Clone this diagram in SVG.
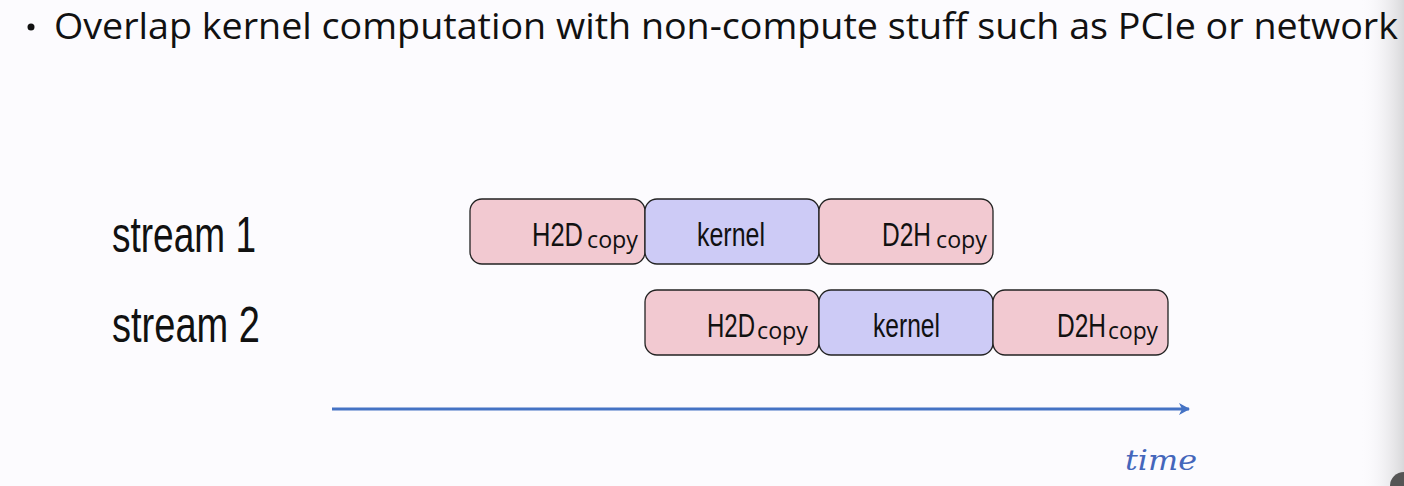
<svg xmlns="http://www.w3.org/2000/svg" width="1404" height="486" viewBox="0 0 1404 486">
<style>
.lbl{font-family:"Liberation Sans",Arial,sans-serif;fill:#111}
.sub{font-family:"Open Sans","Liberation Sans",sans-serif;fill:#111}
.copy{fill:#f2c9d1;stroke:#222;stroke-width:1.3}
.kern{fill:#cdcbf6;stroke:#222;stroke-width:1.3}
</style>
<defs>
<linearGradient id="edge" x1="0" x2="1" y1="0" y2="0">
<stop offset="0" stop-color="#fcfbfe" stop-opacity="0"/>
<stop offset="1" stop-color="#d8d8da"/>
</linearGradient>
<marker id="ah" markerWidth="14" markerHeight="14" refX="11" refY="7" orient="auto" markerUnits="userSpaceOnUse">
<path d="M1,1 L12,7 L1,13 L4,7 Z" fill="#4472c4"/>
</marker>
</defs>
<rect width="1404" height="486" fill="#fcfbfe"/>
<rect x="1360" y="0" width="44" height="486" fill="url(#edge)"/>
<circle cx="1404" cy="486" r="14" fill="#555"/>
<g id="title">
<circle cx="31" cy="27" r="3.5" fill="#111"/>
<text x="54" y="39" font-family="'Open Sans','Liberation Sans',sans-serif" font-size="36" fill="#111" textLength="1344" lengthAdjust="spacingAndGlyphs">Overlap kernel computation with non-compute stuff such as PCIe or network</text>
</g>
<g id="stream1-label"><text class="lbl" x="112" y="252" font-size="50" textLength="144" lengthAdjust="spacingAndGlyphs">stream 1</text></g>
<g id="stream2-label"><text class="lbl" x="112" y="342" font-size="50" textLength="148" lengthAdjust="spacingAndGlyphs">stream 2</text></g>
<g id="s1-h2d"><rect class="copy" x="470" y="199" width="175" height="65" rx="12"/>
<text class="lbl" y="246" font-size="33"><tspan x="532" textLength="51" lengthAdjust="spacingAndGlyphs">H2D</tspan><tspan class="sub" x="587" y="248" font-size="23" textLength="51" lengthAdjust="spacingAndGlyphs">copy</tspan></text></g>
<g id="s1-kernel"><rect class="kern" x="645" y="199" width="174" height="65" rx="12"/>
<text class="lbl" x="697" y="246" font-size="33" textLength="68" lengthAdjust="spacingAndGlyphs">kernel</text></g>
<g id="s1-d2h"><rect class="copy" x="819" y="199" width="174" height="65" rx="12"/>
<text class="lbl" y="246" font-size="33"><tspan x="882" textLength="49" lengthAdjust="spacingAndGlyphs">D2H</tspan><tspan class="sub" x="936" y="248" font-size="23" textLength="51" lengthAdjust="spacingAndGlyphs">copy</tspan></text></g>
<g id="s2-h2d"><rect class="copy" x="645" y="290" width="174" height="65" rx="12"/>
<text class="lbl" y="337" font-size="33"><tspan x="707" textLength="48" lengthAdjust="spacingAndGlyphs">H2D</tspan><tspan class="sub" x="757" y="339" font-size="23" textLength="51" lengthAdjust="spacingAndGlyphs">copy</tspan></text></g>
<g id="s2-kernel"><rect class="kern" x="819" y="290" width="174" height="65" rx="12"/>
<text class="lbl" x="873" y="337" font-size="33" textLength="67" lengthAdjust="spacingAndGlyphs">kernel</text></g>
<g id="s2-d2h"><rect class="copy" x="993" y="290" width="175" height="65" rx="12"/>
<text class="lbl" y="337" font-size="33"><tspan x="1057" textLength="49" lengthAdjust="spacingAndGlyphs">D2H</tspan><tspan class="sub" x="1108" y="339" font-size="23" textLength="50" lengthAdjust="spacingAndGlyphs">copy</tspan></text></g>
<g id="connectors">
<line x1="332" y1="409" x2="1189" y2="409" stroke="#4472c4" stroke-width="3.2" marker-end="url(#ah)"/>
</g>
<g id="time-label"><text x="1125" y="470" font-family="'DejaVu Serif',serif" font-style="italic" font-size="28" fill="#4466bb" textLength="72" lengthAdjust="spacingAndGlyphs">time</text></g>
</svg>
